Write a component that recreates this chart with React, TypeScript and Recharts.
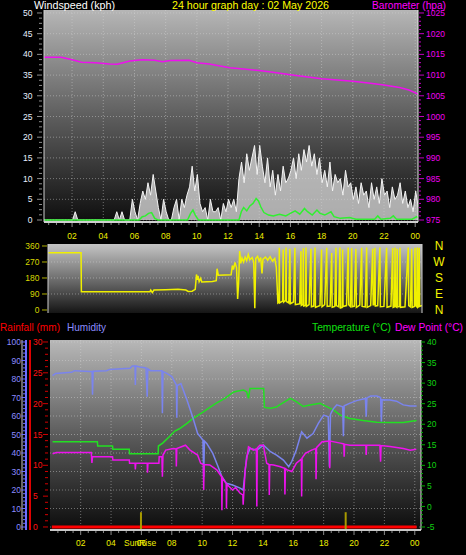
import React from 'react';
import { ComposedChart, Area, Line, XAxis, YAxis, CartesianGrid, ReferenceLine } from 'recharts';

const FONT = '"Liberation Sans", Arial, sans-serif';

// ---- ticks / labels ----
const hourTicks = [2, 4, 6, 8, 10, 12, 14, 16, 18, 20, 22, 24];
const hourLabels = ['02', '04', '06', '08', '10', '12', '14', '16', '18', '20', '22', '00'];
const windTicks = [0, 5, 10, 15, 20, 25, 30, 35, 40, 45, 50];
const baroTicks = [975, 980, 985, 990, 995, 1000, 1005, 1010, 1015, 1020, 1025];
const dirTicks = [0, 90, 180, 270, 360];
const compassLabels = ['N', 'E', 'S', 'W', 'N'];
const humTicks = [0, 10, 20, 30, 40, 50, 60, 70, 80, 90, 100];
const rainTicks = [0, 5, 10, 15, 20, 25, 30];
const tempTicks = [-5, 0, 5, 10, 15, 20, 25, 30, 35, 40];

// ---- data ----
// wind gust (kph), one reading every 10 minutes from 00:12
const gustStart = 0.2;
const gustStep = 1 / 6;
const windGust = [
  0, 0, 0, 0, 0, 0, 0, 0, 0, 0, 0, 0,
  2, 0, 0, 0, 0, 0,
  0, 0, 0, 0, 0, 0,
  0, 0, 0, 0, 2, 0,
  2, 0, 0, 0, 5, 2,
  0, 4, 7, 5, 9, 6,
  11, 7, 3, 0, 5, 2,
  0, 0, 3, 5, 0, 5,
  3, 6, 8, 13, 7, 11,
  4, 2, 3, 0, 5, 2,
  2, 3, 0, 4, 2, 5,
  3, 5, 2, 10, 14, 9,
  16, 12, 15, 18, 11, 18,
  13, 9, 15, 8, 12, 6,
  11, 7, 13, 9, 10, 12,
  15, 10, 16, 12, 17, 14,
  18, 13, 16, 11, 15, 9,
  12, 8, 14, 7, 11, 9,
  10, 6, 12, 8, 9, 5,
  8, 4, 9, 6, 7, 3,
  9, 5, 8, 4, 10, 6,
  7, 3, 8, 5, 6, 9,
  4, 7, 3, 5, 2, 7, 3,
];

// [hour, kph]
const windAvg: [number, number][] = [
  [0.2, 0], [6.3, 0], [6.5, 0.8], [6.7, 1], [6.9, 1.6], [7.1, 1.8], [7.3, 0.4], [7.5, 0],
  [9.4, 0], [9.6, 1.6], [9.75, 2.4], [9.9, 1.2], [10.1, 0], [12.7, 0], [12.85, 2], [13.0, 3],
  [13.2, 2.2], [13.4, 3.4], [13.6, 4], [13.8, 5.2], [13.95, 4.6], [14.1, 3.2], [14.3, 1.8],
  [14.6, 1.2], [14.9, 1], [15.3, 1.4], [15.7, 1], [16.0, 1.6], [16.3, 2.2], [16.6, 1.4],
  [16.9, 2.8], [17.1, 2], [17.4, 1.2], [17.7, 2.4], [17.9, 1.6], [18.2, 1.2], [18.6, 2],
  [18.8, 0.8], [19.2, 0.4], [19.8, 0.6], [20.2, 0.2], [21.4, 0.2], [21.6, 1], [21.8, 0.2],
  [22.4, 0.4], [22.6, 1], [22.8, 0.2], [23.8, 0.2], [24.1, 0.8], [24.18, 0.6],
];

// [hour, hPa]
const barometer: [number, number][] = [
  [0.2, 1014.3], [1.3, 1014.3], [1.8, 1013.9], [2.2, 1013.5], [2.6, 1013.1], [3.5, 1013.0],
  [4.4, 1012.7], [4.9, 1012.6], [5.2, 1012.9], [5.7, 1013.4], [6.5, 1013.7], [7.3, 1013.6],
  [7.8, 1013.2], [8.3, 1013.5], [9.5, 1013.6], [10.0, 1013.0], [10.8, 1012.7], [11.5, 1012.2],
  [12.1, 1011.8], [13.0, 1011.5], [14.0, 1011.1], [15.0, 1010.6], [16.0, 1010.1], [17.0, 1009.6],
  [18.0, 1009.1], [19.0, 1008.8], [20.0, 1008.5], [21.0, 1008.1], [22.0, 1007.6], [23.0, 1007.0],
  [23.6, 1006.4], [24.18, 1005.4],
];

// [hour, degrees]
const windDir: [number, number][] = [
  [0.46, 322], [2.58, 322], [2.6, 103], [7.0, 103], [7.05, 112], [7.15, 98], [7.25, 112],
  [8.0, 114], [8.8, 116], [9.3, 112], [9.45, 104], [9.7, 106], [9.9, 116], [9.98, 200],
  [10.03, 170], [10.08, 192], [10.15, 160], [10.25, 178], [10.32, 158], [11.0, 160],
  [11.25, 165], [11.3, 232], [11.38, 196], [12.2, 198], [12.28, 250], [12.35, 228],
  [12.45, 268], [12.55, 238], [12.62, 62], [12.68, 150], [12.75, 332], [12.82, 262],
  [12.9, 292], [13.0, 270], [13.1, 298], [13.2, 278], [13.3, 312], [13.4, 282], [13.55, 295],
  [13.65, 270], [13.72, 10], [13.78, 290], [13.9, 302], [14.0, 275], [14.1, 295], [14.18, 205],
  [14.24, 285], [14.4, 298], [14.55, 280], [14.7, 300], [14.85, 275], [15.0, 290], [15.1, 240],
  [15.2, 40], [15.27, 45], [15.29, 350], [15.31, 40], [15.5, 50], [15.54, 340], [15.57, 45],
  [15.7, 55], [15.72, 352], [15.75, 48], [15.9, 40], [15.97, 345], [16.0, 35], [16.2, 45],
  [16.29, 350], [16.32, 30], [16.6, 35], [16.68, 330], [16.7, 25], [16.8, 30], [16.83, 348],
  [16.86, 22], [16.97, 25], [17.0, 352], [17.03, 20], [17.2, 30], [17.32, 345], [17.35, 18],
  [17.5, 22], [17.58, 352], [17.61, 15], [17.9, 25], [18.0, 340], [18.03, 18], [18.2, 30],
  [18.33, 350], [18.36, 20], [18.55, 22], [18.65, 320], [18.68, 15], [18.85, 20], [18.92, 350],
  [18.95, 25], [19.1, 18], [19.18, 352], [19.21, 12], [19.32, 15], [19.35, 340], [19.38, 20],
  [19.6, 25], [19.71, 352], [19.74, 30], [19.85, 20], [19.93, 348], [19.96, 18], [20.1, 22],
  [20.2, 345], [20.23, 15], [20.45, 28], [20.57, 350], [20.6, 20], [20.8, 18], [20.89, 352],
  [20.92, 15], [21.15, 25], [21.28, 345], [21.31, 30], [21.39, 30], [21.42, 350], [21.45, 22],
  [21.6, 25], [21.74, 352], [21.77, 18], [22.0, 20], [22.17, 350], [22.2, 15], [22.45, 22],
  [22.56, 348], [22.59, 15], [22.68, 18], [22.71, 352], [22.74, 20], [22.82, 15], [22.85, 345],
  [22.88, 18], [23.0, 20], [23.03, 350], [23.06, 15], [23.35, 18], [23.56, 352], [23.59, 25],
  [23.7, 18], [23.78, 345], [23.81, 15], [23.95, 20], [23.99, 350], [24.02, 25], [24.1, 18],
  [24.14, 352], [24.17, 15], [24.23, 20], [24.26, 350], [24.29, 20], [24.44, 25],
];

// [hour, %]
const humidity: [number, number][] = [
  [0.15, 81.8], [0.35, 83], [1.4, 83.6], [1.6, 84.5], [2.6, 84], [2.75, 84], [2.78, 71.5],
  [2.82, 84.2], [3.7, 84.5], [3.9, 85.2], [5.25, 85.8], [5.4, 87], [5.58, 87], [5.6, 76.8],
  [5.63, 87], [5.9, 86.5], [6.3, 86], [6.38, 70.4], [6.42, 85.5], [6.6, 84.5], [7.35, 84.5],
  [7.38, 61.5], [7.42, 84], [7.67, 83], [8.0, 81.3], [8.3, 76.8], [8.33, 59], [8.36, 76.5],
  [8.6, 77.5], [9.0, 68.6], [9.4, 58.8], [9.7, 50.6], [10.05, 47], [10.1, 27], [10.15, 46.5],
  [10.3, 45.2], [10.7, 39.8], [11.05, 32.6], [11.3, 27.2], [11.6, 23.6], [12.0, 22.7],
  [12.5, 21], [12.7, 20], [12.93, 38], [13.15, 42.5], [13.6, 41.5], [14.03, 44.3], [14.5, 40.7],
  [14.9, 38.9], [15.35, 36.2], [15.7, 32.6], [15.9, 35.4], [16.2, 41.6], [16.55, 51.5],
  [16.9, 48], [17.3, 50.5], [17.65, 56], [18.0, 60.5], [18.3, 59.6], [18.38, 32.6], [18.45, 61],
  [18.65, 64], [18.86, 66], [19.25, 65], [19.3, 49], [19.35, 65.5], [19.7, 66.8], [20.17, 68.3],
  [20.75, 69.5], [20.8, 59.6], [20.85, 69.8], [21.1, 70.8], [21.5, 70.8], [21.75, 70],
  [21.8, 57], [21.85, 68.8], [22.37, 68.6], [22.8, 68], [23.24, 66], [23.7, 65.4], [24.12, 65.4],
];

// [hour, °C]
const temperature: [number, number][] = [
  [0.15, 15.75], [3.1, 15.75], [3.12, 14.7], [4.1, 14.7], [4.12, 13.9], [5.2, 13.9],
  [5.22, 12.8], [7.1, 12.8], [7.12, 14.7], [7.4, 15.4], [7.85, 17], [8.2, 18.35], [8.5, 18.9],
  [9.0, 20.2], [9.4, 21.4], [10.08, 23], [10.5, 24.1], [10.96, 25.2], [11.5, 26.3],
  [12.05, 27.8], [12.28, 28.0], [12.72, 28.3], [12.93, 27.9], [13.05, 26.3], [13.15, 28.7],
  [14.05, 28.7], [14.1, 24.1], [14.5, 23.9], [14.9, 24.2], [15.1, 24.7], [15.8, 26.3],
  [16.2, 25.5], [16.66, 24.3], [17.1, 24.7], [17.76, 25.1], [18.2, 24.3], [18.64, 23.5],
  [19.1, 22.2], [19.73, 21.4], [20.6, 20.9], [21.5, 20.5], [22.37, 20.4], [23.24, 20.4],
  [24.12, 20.9],
];

// [hour, °C]
const dewPoint: [number, number][] = [
  [0.15, 12.8], [0.4, 13.1], [2.7, 13.1], [2.74, 10.6], [2.78, 12.1], [4.1, 12.1], [4.12, 11.3],
  [5.2, 11.3], [5.22, 10.5], [5.58, 10.5], [5.6, 9], [5.63, 10.5], [6.38, 10.5], [6.4, 8.2],
  [6.43, 10.5], [7.15, 10.5], [7.17, 12.1], [7.35, 12.1], [7.38, 7.2], [7.42, 12.5], [7.6, 13.7],
  [8.1, 14.1], [8.28, 14], [8.3, 9.7], [8.33, 14.1], [8.9, 14.9], [9.2, 13.7], [9.7, 12.5],
  [9.9, 10.5], [10.08, 10.2], [10.1, 4], [10.13, 10.2], [10.5, 10.1], [10.96, 8.9], [11.28, 7.2],
  [11.3, -0.9], [11.33, 7], [11.5, 6], [11.58, 5.6], [11.6, -0.5], [11.63, 5.4], [12.0, 4],
  [12.2, 4.6], [12.5, 3.2], [12.68, 2.8], [12.7, 0.4], [12.83, 8.9], [13.05, 14.5],
  [13.37, 13.7], [13.57, 14], [13.6, 0], [13.63, 14.2], [13.8, 14.9], [14.03, 14.9],
  [14.25, 10.5], [14.4, 10.2], [14.42, 2.8], [14.45, 10.2], [14.7, 10.1], [15.1, 9.7],
  [15.43, 9.3], [15.45, 2.9], [15.48, 9.2], [15.6, 8.9], [15.9, 8.5], [16.2, 10.5],
  [16.53, 11.5], [16.55, 2.4], [16.58, 11.8], [16.8, 12.9], [17.2, 13.7], [17.48, 14.1],
  [17.5, 6.6], [17.53, 14.3], [17.9, 15.75], [18.38, 15.9], [18.4, 9.3], [18.43, 15.9],
  [19.1, 15.4], [19.33, 15.2], [19.35, 12.1], [19.38, 15.1], [19.73, 14.9], [20.78, 14.9],
  [20.8, 12.5], [20.83, 14.9], [21.7, 14.9], [21.75, 10.9], [21.78, 14.8], [22.37, 14.6],
  [23.24, 14.1], [23.7, 13.7], [24.1, 13.9],
];

// [hour, mm]
const rainfall: [number, number][] = [[0.1, 0], [24.12, 0]];

const sunRise = 5.97;
const sunSet = 19.45;

// ---- helpers ----
const pts = (arr: [number, number][]) => arr.map(([t, v]) => ({ t, v }));
const gustData = windGust.map((v, i) => ({ t: gustStart + i * gustStep, v }));

// major ticks plus n-1 minor ticks between each pair
const withMinor = (majors: number[], n: number) =>
  majors.flatMap((m, i) =>
    i === 0 ? [m] : Array.from({ length: n }, (_, k) => majors[i - 1] + ((m - majors[i - 1]) * (k + 1)) / n)
  );
const isMajor = (majors: number[], v: number) => majors.some((m) => Math.abs(m - v) < 1e-6);

type YTickOpts = {
  majors: number[];
  labelX: number;
  anchor: 'start' | 'end' | 'middle';
  color: string;
  tickColor: string;
  majorX: [number, number];
  minorX: [number, number];
  fontSize?: number;
  format?: (v: number) => string;
};

const yTick = (o: YTickOpts) => (p: any) => {
  const v = p.payload.value;
  const major = isMajor(o.majors, v);
  const [a, b] = major ? o.majorX : o.minorX;
  return (
    <g>
      {o.tickColor !== 'none' && <line x1={a} x2={b} y1={p.y} y2={p.y} stroke={o.tickColor} strokeWidth={1} />}
      {major && (
        <text x={o.labelX} y={p.y} dy="0.36em" textAnchor={o.anchor} fill={o.color} fontSize={o.fontSize ?? 8.5} fontFamily={FONT}>
          {o.format ? o.format(v) : v}
        </text>
      )}
    </g>
  );
};

const xTick = (axisY: number, labelY: number, color: string) => (p: any) => {
  const v = p.payload.value;
  const idx = hourTicks.indexOf(v);
  const major = idx >= 0;
  return (
    <g>
      <line x1={p.x} x2={p.x} y1={axisY + 1} y2={axisY + (major ? 5 : 3)} stroke="#8a8a8a" strokeWidth={1} />
      {major && (
        <text x={p.x} y={labelY} textAnchor="middle" fill={color} fontSize={8.5} fontFamily={FONT}>
          {hourLabels[idx]}
        </text>
      )}
    </g>
  );
};

const hourMinor = withMinor([0, ...hourTicks], 4).filter((h) => h > 0.2);

const gridStyle = { stroke: '#d8d8d8', strokeOpacity: 0.45, strokeDasharray: '1 2' };

// header text, squeezed to the width it has in the original
const Label = ({ x, y, w, color, children }: { x: number; y: number; w: number; color: string; children: React.ReactNode }) => (
  <text x={x} y={y} fill={color} fontSize={10.5} textLength={w} lengthAdjust="spacingAndGlyphs">
    {children}
  </text>
);

export default function App() {
  return (
    <div style={{ position: 'absolute', left: 0, top: 0, width: 466, height: 555, background: '#000', overflow: 'hidden', fontFamily: FONT }}>
      <svg width={0} height={0} style={{ position: 'absolute' }}>
        <defs>
          <linearGradient id="gTop" x1="0" y1="0" x2="0" y2="1">
            <stop offset="0" stopColor="#b6b6b6" />
            <stop offset="0.5" stopColor="#5e5e5e" />
            <stop offset="1" stopColor="#0e0e0e" />
          </linearGradient>
          <linearGradient id="gMid" x1="0" y1="0" x2="0" y2="1">
            <stop offset="0" stopColor="#c4c4c4" />
            <stop offset="0.5" stopColor="#707070" />
            <stop offset="1" stopColor="#151515" />
          </linearGradient>
          <linearGradient id="gBot" x1="0" y1="0" x2="0" y2="1">
            <stop offset="0" stopColor="#b8b8b8" />
            <stop offset="0.5" stopColor="#5c5c5c" />
            <stop offset="1" stopColor="#0c0c0c" />
          </linearGradient>
        </defs>
      </svg>

      {/* wind speed + barometer */}
      <div style={{ position: 'absolute', left: 0, top: 0 }}>
        <ComposedChart width={466} height={245} margin={{ top: 10, right: 0, bottom: 0, left: 0 }}>
          <CartesianGrid yAxisId="wind" fill="url(#gTop)" fillOpacity={1} horizontalValues={windTicks} verticalValues={hourTicks} {...gridStyle} />
          <XAxis type="number" dataKey="t" domain={[0.2, 24.18]} allowDataOverflow ticks={hourMinor} interval={0} height={23}
            tickLine={false} axisLine={{ stroke: '#d0d0d0', strokeWidth: 2 }} tick={xTick(222, 239, '#eeee00')} />
          <YAxis yAxisId="wind" orientation="left" width={44} type="number" domain={[-0.48, 50.72]} allowDataOverflow
            ticks={withMinor(windTicks, 4)} interval={0} tickLine={false} axisLine={{ stroke: '#cfcfcf' }}
            tick={yTick({ majors: windTicks, labelX: 32.5, anchor: 'end', color: '#e8f0ff', tickColor: '#8c8c8c', majorX: [37, 42], minorX: [39, 42] })} />
          <YAxis yAxisId="baro" orientation="right" width={48} type="number" domain={[974.52, 1025.72]} allowDataOverflow
            ticks={withMinor(baroTicks, 5)} interval={0} tickLine={false} axisLine={{ stroke: '#e8e8e8' }}
            tick={yTick({ majors: baroTicks, labelX: 426, anchor: 'start', color: '#f000f0', tickColor: '#c000c0', majorX: [419, 424], minorX: [419, 421] })} />
          <Area yAxisId="wind" data={gustData} dataKey="v" type="linear" stroke="#f4f4f4" strokeWidth={1} fill="#d4d4d4" fillOpacity={0.8}
            dot={false} activeDot={false} isAnimationActive={false} />
          <Line yAxisId="wind" data={pts(windAvg)} dataKey="v" type="linear" stroke="#30f030" strokeWidth={1.5} dot={false} activeDot={false} isAnimationActive={false} />
          <Line yAxisId="baro" data={pts(barometer)} dataKey="v" type="linear" stroke="#ee10ee" strokeWidth={1.5} dot={false} activeDot={false} isAnimationActive={false} />
        </ComposedChart>
      </div>

      {/* wind direction */}
      <div style={{ position: 'absolute', left: 0, top: 238 }}>
        <ComposedChart width={466} height={81} margin={{ top: 6, right: 0, bottom: 6, left: 0 }}>
          <CartesianGrid yAxisId="dir" fill="url(#gMid)" fillOpacity={1} horizontalValues={[90, 180, 270]} vertical={false} {...gridStyle} />
          <XAxis type="number" dataKey="t" domain={[0.46, 24.44]} allowDataOverflow height={0} tick={false} tickLine={false}
            axisLine={{ stroke: '#d0d0d0', strokeWidth: 2 }} />
          <YAxis yAxisId="dir" orientation="left" width={48} type="number" domain={[-16.9, 371.25]} allowDataOverflow
            ticks={dirTicks} interval={0} tickLine={false} axisLine={{ stroke: '#cfcfcf' }}
            tick={yTick({ majors: dirTicks, labelX: 39.5, anchor: 'end', color: '#d8d800', tickColor: '#b0b000', majorX: [42, 47], minorX: [42, 47] })} />
          <YAxis yAxisId="compass" orientation="right" width={44} type="number" domain={[-16.9, 371.25]} allowDataOverflow
            ticks={dirTicks} interval={0} tickLine={false} axisLine={{ stroke: '#d0d0d0' }}
            tick={yTick({ majors: dirTicks, labelX: 439, anchor: 'middle', color: '#f4f400', tickColor: 'none', majorX: [0, 0], minorX: [0, 0], fontSize: 12, format: (v) => compassLabels[dirTicks.indexOf(v)] })} />
          <Line yAxisId="dir" data={pts(windDir)} dataKey="v" type="linear" stroke="#f0f000" strokeWidth={1.5} dot={false} activeDot={false} isAnimationActive={false} />
        </ComposedChart>
      </div>

      {/* rainfall, humidity, temperature, dew point */}
      <div style={{ position: 'absolute', left: 0, top: 330 }}>
        <ComposedChart width={466} height={225} margin={{ top: 10, right: 0, bottom: 0, left: 0 }}>
          <CartesianGrid yAxisId="hum" fill="url(#gBot)" fillOpacity={1} horizontalValues={humTicks} verticalValues={hourTicks} {...gridStyle} />
          <XAxis type="number" dataKey="t" domain={[-0.02, 24.41]} allowDataOverflow ticks={withMinor([0, ...hourTicks], 4).filter((h) => h > 0)}
            interval={0} height={25} tickLine={false} axisLine={{ stroke: '#c8c8c8', strokeWidth: 2 }} tick={xTick(200, 215.5, '#eeee00')} />
          <YAxis yAxisId="rain" orientation="left" width={22} type="number" domain={[-0.49, 30.32]} allowDataOverflow
            ticks={withMinor(rainTicks, 5)} interval={0} tickLine={false} axisLine={{ stroke: '#cfcfcf' }}
            tick={yTick({ majors: rainTicks, labelX: 33, anchor: 'start', color: '#ff1010', tickColor: '#d00000', majorX: [43, 48], minorX: [45, 48] })} />
          <YAxis yAxisId="hum" orientation="left" width={28} type="number" domain={[-1.62, 101.08]} allowDataOverflow
            ticks={withMinor(humTicks, 5)} interval={0} tickLine={false} axisLine={false}
            tick={yTick({ majors: humTicks, labelX: 21, anchor: 'end', color: '#8c8cff', tickColor: '#6f6fff', majorX: [21.5, 25], minorX: [23, 25] })} />
          <YAxis yAxisId="temp" orientation="right" width={45} type="number" domain={[-5.73, 40.49]} allowDataOverflow
            ticks={withMinor(tempTicks, 5)} interval={0} tickLine={false} axisLine={{ stroke: '#e0e0e0' }}
            tick={yTick({ majors: tempTicks, labelX: 427, anchor: 'start', color: '#10d010', tickColor: '#00b000', majorX: [421, 425], minorX: [421, 423] })} />
          <Line yAxisId="temp" data={pts(temperature)} dataKey="v" type="linear" stroke="#22e022" strokeWidth={1.5} dot={false} activeDot={false} isAnimationActive={false} />
          <Line yAxisId="hum" data={pts(humidity)} dataKey="v" type="linear" stroke="#7a84ee" strokeWidth={1.5} dot={false} activeDot={false} isAnimationActive={false} />
          <Line yAxisId="temp" data={pts(dewPoint)} dataKey="v" type="linear" stroke="#ee12ee" strokeWidth={1.5} dot={false} activeDot={false} isAnimationActive={false} />
          <Line yAxisId="rain" data={pts(rainfall)} dataKey="v" type="linear" stroke="#ff0000" strokeWidth={3} dot={false} activeDot={false} isAnimationActive={false} />
          {[sunRise, sunSet].map((s) => (
            <ReferenceLine key={s} yAxisId="temp" ifOverflow="visible" segment={[{ x: s, y: -5.73 }, { x: s, y: -1.4 }]} stroke="#a89a00" strokeWidth={2} />
          ))}
        </ComposedChart>
      </div>

      {/* titles and axis bars */}
      <svg width={466} height={555} style={{ position: 'absolute', left: 0, top: 0, pointerEvents: 'none' }} fontFamily={FONT}>
        {/* header strip hides the top of the first tick labels, as in the original */}
        <rect x={0} y={0} width={466} height={10} fill="#000" />
        <Label x={34} y={8.5} w={81} color="#ffffff">Windspeed (kph)</Label>
        <Label x={172} y={8.5} w={157} color="#ffff00">24 hour graph day : 02 May 2026</Label>
        <Label x={372} y={8.5} w={74} color="#ff00ff">Barometer (hpa)</Label>
        <Label x={0} y={330.5} w={60} color="#ff0000">Rainfall (mm)</Label>
        <Label x={67} y={330.5} w={39} color="#8c8cff">Humidity</Label>
        <Label x={312} y={330.5} w={79} color="#10e010">Temperature (°C)</Label>
        <Label x={395} y={330.5} w={68} color="#ff00ff">Dew Point (°C)</Label>
        <text x={124} y={545.5} fill="#eeee00" fontSize={8.5}>SunRise</text>
        <line x1={26} x2={26} y1={340} y2={530} stroke="#6f6fff" strokeWidth={2} />
        <line x1={30} x2={30} y1={340} y2={530} stroke="#e00000" strokeWidth={2} />
      </svg>
    </div>
  );
}
